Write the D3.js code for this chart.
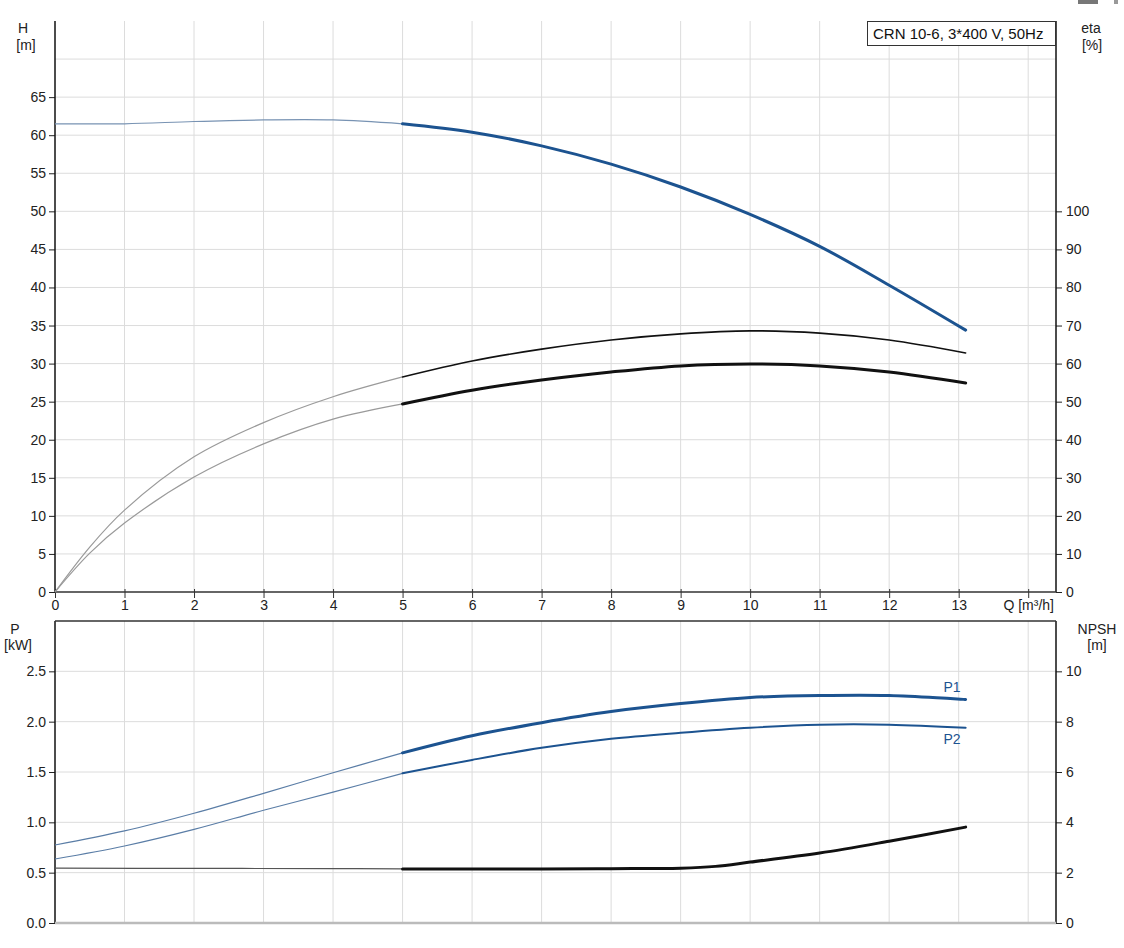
<!DOCTYPE html>
<html><head><meta charset="utf-8">
<script src="https://cdn.jsdelivr.net/npm/d3@7"></script>
<style>
body{margin:0;background:#fff;}
text{font-family:"Liberation Sans",Arial,sans-serif;}
</style></head><body>
<svg id="c" width="1124" height="948"></svg>
<script>
// ---- data ----
const qH   = [0,1,2,3,4,5,6,7,8,9,10,11,12,13.1];
const H    = [61.5,61.5,61.8,62.0,62.0,61.5,60.4,58.6,56.2,53.2,49.6,45.4,40.3,34.4];
const qEta = [0,0.5,1,2,3,4,5,6,7,8,9,10,11,12,13.1];
const etaA = [0,11.8,21.5,35.5,44.5,51.3,56.5,60.7,63.8,66.2,67.8,68.6,68.0,66.2,62.8];
const etaB = [0,10.2,18.1,30.2,38.9,45.4,49.4,53,55.7,57.8,59.4,59.9,59.4,57.8,54.9];
const qP   = [0,1,2,3,4,5,6,7,8,9,10,11,12,13.1];
const P1   = [0.775,0.915,1.09,1.288,1.493,1.69,1.86,1.99,2.10,2.18,2.24,2.26,2.26,2.22];
const P2   = [0.636,0.765,0.93,1.12,1.30,1.487,1.62,1.74,1.83,1.89,1.94,1.97,1.97,1.94];
const qN   = [0,2,4,5,6,7,8,9,9.5,10,11,12,13.1];
const NPSH = [2.18,2.17,2.16,2.15,2.15,2.15,2.16,2.18,2.25,2.42,2.78,3.25,3.81];
const qTicks = [0,1,2,3,4,5,6,7,8,9,10,11,12,13];
const hTicks = [0,5,10,15,20,25,30,35,40,45,50,55,60,65];
const etaTicks = [0,10,20,30,40,50,60,70,80,90,100];
const pTicks = [0,0.5,1.0,1.5,2.0,2.5];
const nTicks = [0,2,4,6,8,10];
const title = "CRN 10-6, 3*400 V, 50Hz";
const splitQ = 5;

const svg = d3.select("#c");
const blue = "#1c5390";
const FS = 14;
const L = 55, R = 1056;
const x = d3.scaleLinear().domain([0,14.4]).range([L,R]);
const yH = d3.scaleLinear().domain([0,75]).range([592,21]);
const yE = d3.scaleLinear().domain([0,150]).range([592,21]);
const yP = d3.scaleLinear().domain([0,3]).range([923,621]);
const yN = d3.scaleLinear().domain([0,12]).range([923,621]);

// decor at top right
svg.append("rect").attr("x",1078).attr("y",0).attr("width",20).attr("height",4).attr("fill","#777");
svg.append("rect").attr("x",1114).attr("y",0).attr("width",4).attr("height",4).attr("fill","#999");

const grid = svg.append("g").attr("stroke","#dcdcdc").attr("stroke-width",1);
d3.range(1,15).forEach(q=>{
  grid.append("line").attr("x1",x(q)).attr("x2",x(q)).attr("y1",yH(75)).attr("y2",yH(0));
  grid.append("line").attr("x1",x(q)).attr("x2",x(q)).attr("y1",yP(3)).attr("y2",yP(0));
});
d3.range(5,75,5).forEach(h=>{
  grid.append("line").attr("x1",L).attr("x2",R).attr("y1",yH(h)).attr("y2",yH(h));
});
[0.5,1,1.5,2,2.5].forEach(p=>{
  grid.append("line").attr("x1",L).attr("x2",R).attr("y1",yP(p)).attr("y2",yP(p));
});

function styleAxis(g){
  g.selectAll("text").attr("font-size",FS).attr("fill","#222").style("font-family","Liberation Sans, Arial");
  g.selectAll(".tick line").attr("stroke","#222");
}
function leftAxis(scale, ticks, fmt, y0, y1){
  const g = svg.append("g").attr("transform",`translate(${L},0)`)
    .call(d3.axisLeft(scale).tickValues(ticks).tickFormat(fmt).tickSize(6).tickPadding(3));
  g.select(".domain").remove();
  g.append("line").attr("y1",y0).attr("y2",y1).attr("stroke","#111").attr("stroke-width",1.5);
  styleAxis(g);
}
function rightAxis(scale, ticks, fmt, y0, y1){
  const g = svg.append("g").attr("transform",`translate(${R},0)`)
    .call(d3.axisRight(scale).tickValues(ticks).tickFormat(fmt).tickSize(6).tickPadding(4));
  g.select(".domain").remove();
  g.append("line").attr("y1",y0).attr("y2",y1).attr("stroke","#111").attr("stroke-width",1.5);
  styleAxis(g);
}
leftAxis(yH, hTicks, d3.format("d"), 21, 592);
rightAxis(yE, etaTicks, d3.format("d"), 21, 592);
leftAxis(yP, pTicks, d3.format(".1f"), 621, 923);
rightAxis(yN, nTicks, d3.format("d"), 621, 923);

const gx = svg.append("g").attr("transform","translate(0,592)")
  .call(d3.axisBottom(x).tickValues(qTicks.concat([14])).tickFormat(d=>d===14?"Q [m³/h]":d).tickSize(6).tickPadding(2));
gx.select(".domain").remove();
gx.append("line").attr("x1",L).attr("x2",R).attr("stroke","#333").attr("stroke-width",1.5);
styleAxis(gx);
gx.selectAll(".tick line").attr("stroke","#333").attr("y1",-3);

svg.append("line").attr("x1",L).attr("x2",R).attr("y1",621).attr("y2",621).attr("stroke","#333").attr("stroke-width",1.5);
svg.append("line").attr("x1",L).attr("x2",R).attr("y1",923).attr("y2",923).attr("stroke","#bbb").attr("stroke-width",2.5);

function lbl(t,xx,yy,anchor){svg.append("text").attr("x",xx).attr("y",yy).attr("text-anchor",anchor||"middle").attr("font-size",FS).attr("fill","#222").text(t);}
lbl("H",23,33); lbl("[m]",26,50);
lbl("eta",1091,33); lbl("[%]",1092,50);
lbl("P",15,634); lbl("[kW]",18,650);
lbl("NPSH",1097,634); lbl("[m]",1097,650);

svg.append("rect").attr("x",867.5).attr("y",21.5).attr("width",188).attr("height",24).attr("fill","#fff").attr("stroke","#333");
svg.append("text").attr("x",873).attr("y",38.5).attr("font-size",15).attr("fill","#111").text(title);

function draw(qs, vs, yScale, thinColor, thinW, thickColor, thickW){
  const pts = qs.map((q,i)=>[q,vs[i]]);
  const line = d3.line().x(d=>x(d[0])).y(d=>yScale(d[1])).curve(d3.curveCatmullRom.alpha(0.5));
  const thin = pts.filter(d=>d[0]<=splitQ);
  const thick = pts.filter(d=>d[0]>=splitQ);
  svg.append("path").attr("d",line(thin)).attr("fill","none").attr("stroke",thinColor).attr("stroke-width",thinW);
  svg.append("path").attr("d",line(thick)).attr("fill","none").attr("stroke",thickColor).attr("stroke-width",thickW).attr("stroke-linecap","round");
}
draw(qH, H, yH, "#7893b3", 1.2, blue, 3);
draw(qEta, etaA, yE, "#9a9a9a", 1.2, "#111", 1.6);
draw(qEta, etaB, yE, "#9a9a9a", 1.2, "#111", 3);
draw(qP, P1, yP, "#5a7da6", 1.2, blue, 3);
draw(qP, P2, yP, "#5a7da6", 1.2, blue, 2);
draw(qN, NPSH, yN, "#555", 1.2, "#111", 3);

svg.append("text").attr("x",952).attr("y",692).attr("text-anchor","middle").attr("font-size",FS).attr("fill",blue).text("P1");
svg.append("text").attr("x",952).attr("y",744).attr("text-anchor","middle").attr("font-size",FS).attr("fill",blue).text("P2");
</script>
</body></html>
